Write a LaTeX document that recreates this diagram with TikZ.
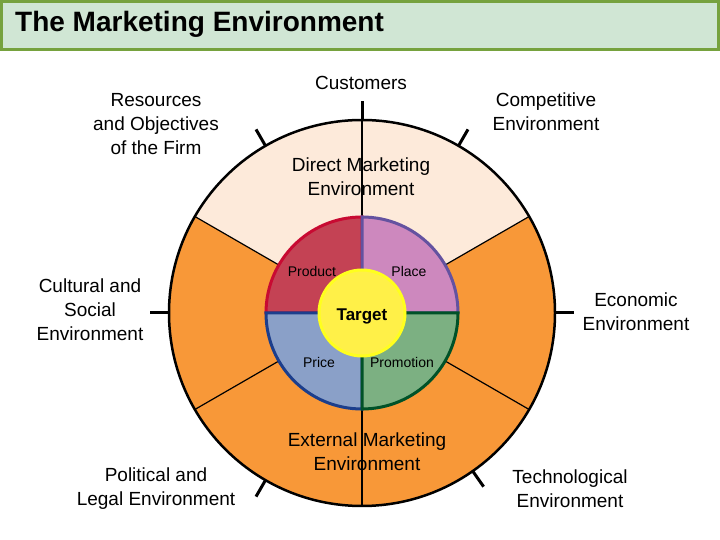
\documentclass[tikz,border=0pt]{standalone}
\usepackage{fontspec}
\setmainfont{Liberation Sans}
\usetikzlibrary{calc}
\definecolor{colbar}{RGB}{208,230,212}
\definecolor{colbarline}{RGB}{118,162,62}
\definecolor{colpeach}{RGB}{253,234,218}
\definecolor{colorange}{RGB}{248,152,56}
\definecolor{colproduct}{RGB}{196,66,84}
\definecolor{colproductline}{RGB}{200,10,50}
\definecolor{colplace}{RGB}{205,136,190}
\definecolor{colplaceline}{RGB}{100,82,160}
\definecolor{colprice}{RGB}{138,160,200}
\definecolor{colpriceline}{RGB}{28,62,140}
\definecolor{colpromo}{RGB}{124,176,130}
\definecolor{colpromoline}{RGB}{0,82,40}
\definecolor{coltarget}{RGB}{255,240,72}
\definecolor{coltargetline}{RGB}{255,255,30}
\tikzset{
  envtext/.style={
    align=center,
    inner sep=0pt,
    font=\fontsize{19}{24}\selectfont
  },
  mixtext/.style={
    inner sep=0pt,
    font=\fontsize{14}{16}\selectfont
  },
  tick/.style={line width=3pt},
  divider/.style={line width=1.2pt}
}
\newcommand{\mixsector}[4]{%
  \draw[fill=#3, draw=#4, line width=3pt]
    (c) -- ++(#1:96) arc[start angle=#1, end angle=#2, radius=96] -- cycle;}

\begin{document}
\begin{tikzpicture}[x=1pt,y=1pt]
  \useasboundingbox (0,0) rectangle (720,540);
  \coordinate (c) at (362,227);

  % title bar
  \draw[fill=colbar, draw=colbarline, line width=3pt] (1.5,538.5) rectangle (718.5,490);
  \node[anchor=west, inner sep=0pt, font=\fontsize{28}{32}\selectfont\bfseries]
    (title) at (15,516) {The Marketing Environment};

  % outer ring
  \fill[colorange] (c) circle (193);
  \fill[colpeach] (c) -- ++(30:193) arc[start angle=30, end angle=150, radius=193] -- cycle;

  % dividers
  \foreach \ang in {30,90,150,210,270,330}
    \draw[divider] ($(c)+(\ang:96)$) -- ($(c)+(\ang:193)$);
  \draw[line width=2.5pt] (c) circle (193);

  % ticks
  \foreach \ang in {0,60,90,120,180,240,305}
    \draw[tick] ($(c)+(\ang:193)$) -- ($(c)+(\ang:212)$);

  % marketing mix
  \mixsector{90}{180}{colproduct}{colproductline}
  \mixsector{0}{90}{colplace}{colplaceline}
  \mixsector{180}{270}{colprice}{colpriceline}
  \mixsector{270}{360}{colpromo}{colpromoline}
  \draw[fill=coltarget, draw=coltargetline, line width=3pt] (c) circle (43);

  % The labels
  \node[mixtext] (product) at (312,268) {Product};
  \node[mixtext] (place) at (409,268) {Place};
  \node[mixtext] (price) at (319,177) {Price};
  \node[mixtext] (promo) at (402,177) {Promotion};
  \node[inner sep=0pt, font=\fontsize{17}{18}\selectfont\bfseries] (target) at (362,224) {Target};

  \node[envtext] (direct) at (361,363) {Direct Marketing\\Environment};
  \node[envtext] (external) at (367,88) {External Marketing\\Environment};
  \node[envtext] (customers) at (361,457) {Customers};
  \node[envtext] (resources) at (156,416) {Resources\\and Objectives\\of the Firm};
  \node[envtext] (competitive) at (546,428) {Competitive\\Environment};
  \node[envtext] (cultural) at (90,230) {Cultural and\\Social\\Environment};
  \node[envtext] (economic) at (636,228) {Economic\\Environment};
  \node[envtext] (political) at (156,51) {Political and\\Legal Environment};
  \node[envtext] (techno) at (570,51) {Technological\\Environment};
\end{tikzpicture}
\end{document}
